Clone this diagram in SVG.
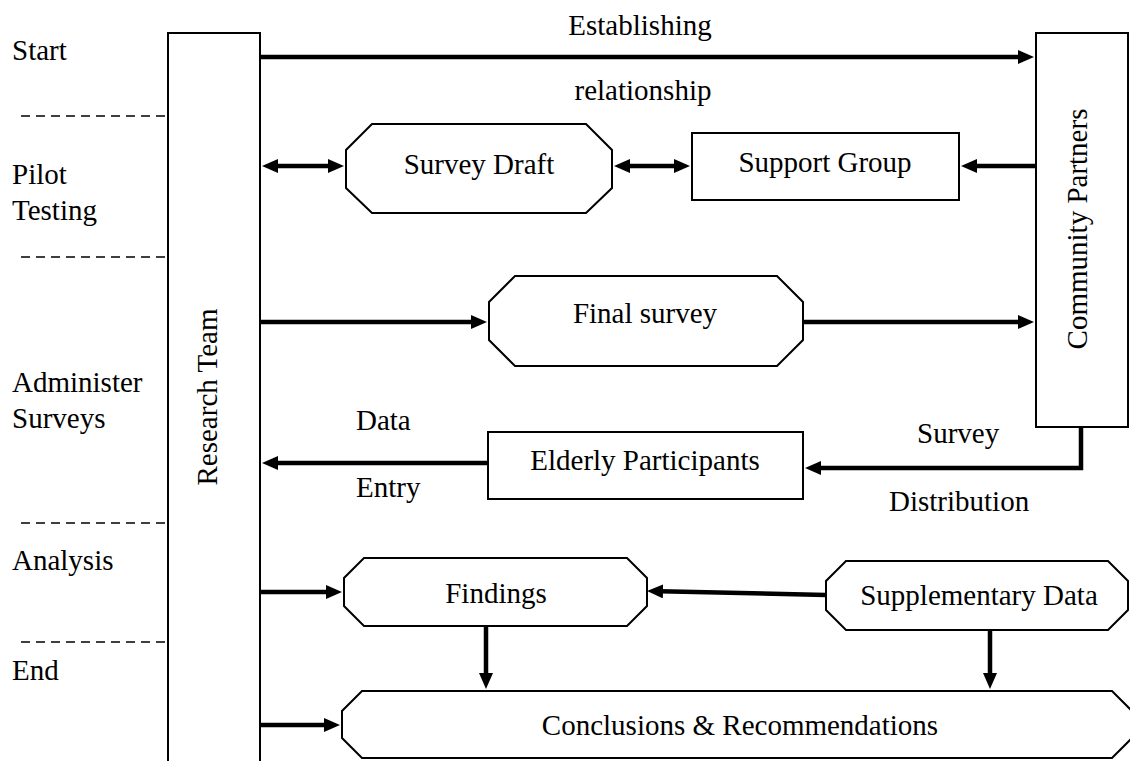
<svg xmlns="http://www.w3.org/2000/svg" width="1130" height="761" viewBox="0 0 1130 761">
<style>
  text { font-family: "Liberation Serif", "Times New Roman", serif; font-size: 29px; fill: #000; }
  .box { fill: #fff; stroke: #000; stroke-width: 2; }
  .conn { fill: none; stroke: #000; stroke-width: 4.5; stroke-linejoin: miter; }
  .arr { marker-end: url(#ah); }
  .dbl { marker-start: url(#ah); marker-end: url(#ah); }
  .dash { stroke: #000; stroke-width: 1.5; stroke-dasharray: 9 6; }
  .mid { text-anchor: middle; }
</style>
<defs>
  <marker id="ah" markerUnits="userSpaceOnUse" markerWidth="16" markerHeight="14" refX="3" refY="7" orient="auto-start-reverse">
    <path d="M0,0 L16,7 L0,14 Z" fill="#000"/>
  </marker>
</defs>
<rect width="1130" height="761" fill="#fff"/>

<g id="phases">
  <line class="dash" x1="21" y1="116" x2="168" y2="116"/>
  <line class="dash" x1="21" y1="257" x2="168" y2="257"/>
  <line class="dash" x1="21" y1="523" x2="168" y2="523"/>
  <line class="dash" x1="21" y1="642" x2="168" y2="642"/>
  <text x="12" y="60">Start</text>
  <text x="12" y="184">Pilot</text>
  <text x="12" y="220">Testing</text>
  <text x="12" y="392">Administer</text>
  <text x="12" y="428">Surveys</text>
  <text x="12" y="570">Analysis</text>
  <text x="12" y="680">End</text>
</g>

<g id="research-team">
  <path class="box" d="M168,770 V33 H260 V770"/>
  <text class="mid" transform="translate(217,397) rotate(-90)">Research Team</text>
</g>

<g id="community-partners">
  <rect class="box" x="1036" y="33" width="92" height="394"/>
  <text class="mid" transform="translate(1087,229) rotate(-90)">Community Partners</text>
</g>

<g id="survey-draft">
  <polygon class="box" points="372,124 586,124 612,150 612,188 586,213 372,213 346,188 346,150"/>
  <text class="mid" x="479" y="174">Survey Draft</text>
</g>

<g id="support-group">
  <rect class="box" x="692" y="133" width="267" height="67"/>
  <text class="mid" x="825" y="172">Support Group</text>
</g>

<g id="final-survey">
  <polygon class="box" points="515,276 777,276 803,302 803,340 777,366 515,366 489,340 489,302"/>
  <text class="mid" x="645" y="323">Final survey</text>
</g>

<g id="elderly-participants">
  <rect class="box" x="488" y="432" width="315" height="67"/>
  <text class="mid" x="645" y="470">Elderly Participants</text>
</g>

<g id="findings">
  <polygon class="box" points="364,558 627,558 647,578 647,606 627,626 364,626 344,606 344,578"/>
  <text class="mid" x="496" y="603">Findings</text>
</g>

<g id="supplementary-data">
  <polygon class="box" points="846,561 1108,561 1128,581 1128,610 1108,630 846,630 826,610 826,581"/>
  <text class="mid" x="979" y="605">Supplementary Data</text>
</g>

<g id="conclusions">
  <polygon class="box" points="362,691 1112,691 1132,711 1132,738 1112,758 362,758 342,738 342,711"/>
  <text class="mid" x="740" y="735">Conclusions &amp; Recommendations</text>
</g>

<g id="connectors">
  <path class="conn arr" d="M260,57 H1021"/>
  <path class="conn dbl" d="M275,166 H331"/>
  <path class="conn dbl" d="M627,166 H677"/>
  <path class="conn arr" d="M1036,166 H974"/>
  <path class="conn arr" d="M260,322 H474"/>
  <path class="conn arr" d="M803,322 H1021"/>
  <path class="conn arr" d="M1081,427 V468 H818"/>
  <path class="conn arr" d="M488,463 H275"/>
  <path class="conn arr" d="M260,592 H329"/>
  <path class="conn arr" d="M826,595 L660,591.3"/>
  <path class="conn arr" d="M486,626 V676"/>
  <path class="conn arr" d="M990,630 V676"/>
  <path class="conn arr" d="M260,725 H327"/>
</g>

<g id="labels">
  <text class="mid" x="640" y="35">Establishing</text>
  <text class="mid" x="643" y="100">relationship</text>
  <text x="356" y="430">Data</text>
  <text x="356" y="497">Entry</text>
  <text x="917" y="443">Survey</text>
  <text x="889" y="511">Distribution</text>
</g>
</svg>
